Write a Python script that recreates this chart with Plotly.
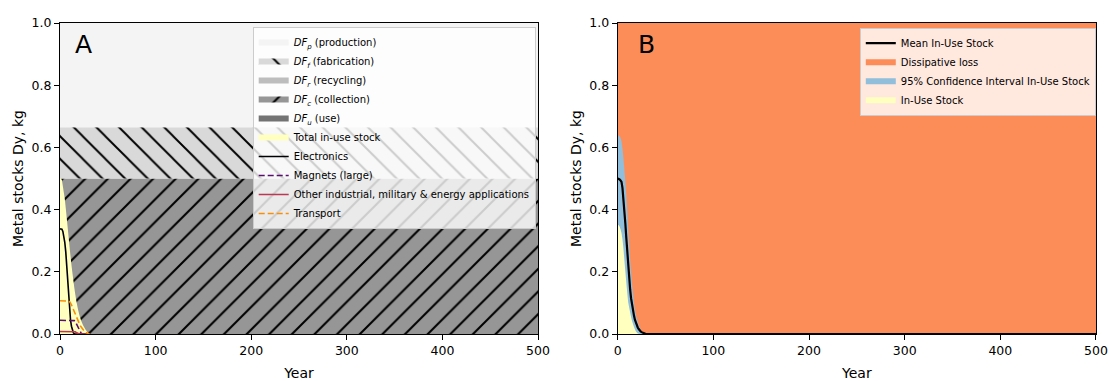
import plotly.graph_objects as go

# ---------------- data ----------------
years = list(range(0, 32)) + [500]
sector_years = list(range(0, 32))

# Panel A: in-use stock by sector (kg Dy)
total_in_use = [0.500, 0.500, 0.495, 0.475, 0.455, 0.435, 0.405, 0.375, 0.343, 0.312,
                0.280, 0.250, 0.222, 0.196, 0.172, 0.148, 0.127, 0.108, 0.092, 0.077,
                0.064, 0.053, 0.044, 0.036, 0.029, 0.023, 0.018, 0.013, 0.009, 0.005,
                0.002, 0.0, 0.0]
electronics = [0.338, 0.338, 0.337, 0.330, 0.315, 0.295, 0.265, 0.215, 0.165, 0.120,
               0.075, 0.045, 0.025, 0.012, 0.004, 0.001, 0.0, 0.0, 0.0, 0.0,
               0.0, 0.0, 0.0, 0.0, 0.0, 0.0, 0.0, 0.0, 0.0, 0.0,
               0.0, 0.0]
magnets = [0.044, 0.044, 0.044, 0.044, 0.044, 0.044, 0.044, 0.044, 0.044, 0.044,
           0.044, 0.044, 0.044, 0.044, 0.044, 0.043, 0.040, 0.034, 0.027, 0.019,
           0.012, 0.007, 0.003, 0.001, 0.0, 0.0, 0.0, 0.0, 0.0, 0.0,
           0.0, 0.0]
other = [0.008, 0.008, 0.008, 0.008, 0.008, 0.008, 0.008, 0.008, 0.008, 0.008,
         0.008, 0.008, 0.008, 0.008, 0.008, 0.008, 0.007, 0.005, 0.003, 0.001,
         0.0, 0.0, 0.0, 0.0, 0.0, 0.0, 0.0, 0.0, 0.0, 0.0,
         0.0, 0.0]
transport = [0.107, 0.107, 0.107, 0.107, 0.107, 0.107, 0.107, 0.107, 0.107, 0.106,
             0.104, 0.100, 0.094, 0.086, 0.078, 0.070, 0.062, 0.054, 0.047, 0.040,
             0.034, 0.028, 0.023, 0.018, 0.014, 0.010, 0.007, 0.005, 0.003, 0.002,
             0.001, 0.0]

# Panel A: dissipation factor bands (stacked, constant over time)
band_years = [0, 500]
df_use = [0.0, 0.0]
df_collection = [0.5, 0.5]
df_recycling = [0.0, 0.0]
df_fabrication = [0.165, 0.165]
df_production = [0.335, 0.335]

# Panel B: uncertainty of in-use stock
mean_stock = [0.500, 0.499, 0.497, 0.494, 0.489, 0.470, 0.437, 0.398, 0.356, 0.310,
              0.260, 0.205, 0.172, 0.144, 0.115, 0.092, 0.076, 0.060, 0.046, 0.036,
              0.027, 0.021, 0.016, 0.011, 0.008, 0.006, 0.004, 0.002, 0.001, 0.0005,
              0.0, 0.0, 0.0]
ci_upper = [0.638, 0.638, 0.636, 0.630, 0.619, 0.597, 0.565, 0.528, 0.490, 0.447,
            0.395, 0.340, 0.288, 0.240, 0.198, 0.162, 0.132, 0.104, 0.078, 0.063,
            0.050, 0.039, 0.030, 0.022, 0.014, 0.008, 0.005, 0.003, 0.001, 0.0,
            0.0, 0.0, 0.0]
ci_lower = [0.352, 0.350, 0.346, 0.337, 0.325, 0.305, 0.276, 0.238, 0.202, 0.166,
            0.133, 0.102, 0.085, 0.070, 0.055, 0.042, 0.032, 0.023, 0.015, 0.009,
            0.005, 0.002, 0.001, 0.0, 0.0, 0.0, 0.0, 0.0, 0.0, 0.0,
            0.0, 0.0, 0.0]
dissipative_top = [1.0, 1.0]

FONT = "DejaVu Sans"
fig = go.Figure()

# ---------------- Panel A ----------------
fig.add_trace(go.Scatter(x=band_years, y=df_use, stackgroup="a", mode="none",
                         fillcolor="#737373", name="<i>DF</i><sub><i>u</i></sub> (use)",
                         legend="legend", legendrank=5, xaxis="x", yaxis="y"))
fig.add_trace(go.Scatter(x=band_years, y=df_collection, stackgroup="a", mode="none",
                         fillcolor="#969696",
                         fillpattern=dict(shape="/", fgcolor="#000000", bgcolor="#969696",
                                          size=16, solidity=0.13),
                         name="<i>DF</i><sub><i>c</i></sub> (collection)",
                         legend="legend", legendrank=4, xaxis="x", yaxis="y"))
fig.add_trace(go.Scatter(x=band_years, y=df_recycling, stackgroup="a", mode="none",
                         fillcolor="#bdbdbd", name="<i>DF</i><sub><i>r</i></sub> (recycling)",
                         legend="legend", legendrank=3, xaxis="x", yaxis="y"))
fig.add_trace(go.Scatter(x=band_years, y=df_fabrication, stackgroup="a", mode="none",
                         fillcolor="#d9d9d9",
                         fillpattern=dict(shape="\\", fgcolor="#000000", bgcolor="#d9d9d9",
                                          size=16, solidity=0.12),
                         name="<i>DF</i><sub><i>f</i></sub> (fabrication)",
                         legend="legend", legendrank=2, xaxis="x", yaxis="y"))
fig.add_trace(go.Scatter(x=band_years, y=df_production, stackgroup="a", mode="none",
                         fillcolor="#f4f4f4", name="<i>DF</i><sub><i>p</i></sub> (production)",
                         legend="legend", legendrank=1, xaxis="x", yaxis="y"))
fig.add_trace(go.Scatter(x=years, y=total_in_use, fill="tozeroy", mode="none",
                         fillcolor="#ffffbf", name="Total in-use stock",
                         legend="legend", legendrank=6, xaxis="x", yaxis="y"))
fig.add_trace(go.Scatter(x=sector_years, y=electronics, mode="lines",
                         line=dict(color="#000004", width=1.6), name="Electronics",
                         legend="legend", legendrank=7, xaxis="x", yaxis="y"))
fig.add_trace(go.Scatter(x=sector_years, y=magnets, mode="lines",
                         line=dict(color="#57106e", width=1.6, dash="6px,3px"),
                         name="Magnets (large)", legend="legend", legendrank=8,
                         xaxis="x", yaxis="y"))
fig.add_trace(go.Scatter(x=sector_years, y=other, mode="lines",
                         line=dict(color="#bc3754", width=1.6),
                         name="Other industrial, military &amp; energy applications",
                         legend="legend", legendrank=9, xaxis="x", yaxis="y"))
fig.add_trace(go.Scatter(x=sector_years, y=transport, mode="lines",
                         line=dict(color="#f98e09", width=1.6, dash="6px,3px"),
                         name="Transport", legend="legend", legendrank=10,
                         xaxis="x", yaxis="y"))

# ---------------- Panel B ----------------
fig.add_trace(go.Scatter(x=band_years, y=dissipative_top, fill="tozeroy", mode="none",
                         fillcolor="#fc8d59", name="Dissipative loss",
                         legend="legend2", legendrank=2, xaxis="x2", yaxis="y2"))
fig.add_trace(go.Scatter(x=years, y=ci_upper, fill="tozeroy", mode="none",
                         fillcolor="#91bfdb", name="95% Confidence Interval In-Use Stock",
                         legend="legend2", legendrank=3, xaxis="x2", yaxis="y2"))
fig.add_trace(go.Scatter(x=years, y=ci_lower, fill="tozeroy", mode="none",
                         fillcolor="#ffffbf", name="In-Use Stock",
                         legend="legend2", legendrank=4, xaxis="x2", yaxis="y2"))
fig.add_trace(go.Scatter(x=years, y=mean_stock, mode="lines",
                         line=dict(color="#000000", width=2.2), name="Mean In-Use Stock",
                         legend="legend2", legendrank=1, xaxis="x2", yaxis="y2"))

axis_common = dict(showline=True, mirror=True, linecolor="#000000", linewidth=1,
                   ticks="outside", ticklen=5, tickwidth=1, tickcolor="#000000",
                   showgrid=False, zeroline=False, automargin=False,
                   tickfont=dict(family=FONT, size=12.5, color="#000000"))
xcommon = dict(axis_common, range=[0, 500], tickvals=[0, 100, 200, 300, 400, 500],
               title=dict(text="Year", font=dict(family=FONT, size=14, color="#000000"),
                          standoff=15))
ycommon = dict(axis_common, range=[0, 1], tickvals=[0, 0.2, 0.4, 0.6, 0.8, 1.0],
               tickformat=".1f",
               title=dict(text="Metal stocks Dy, kg",
                          font=dict(family=FONT, size=14, color="#000000"), standoff=4))

legend_common = dict(bgcolor="rgba(255,255,255,0.8)", bordercolor="#cccccc", borderwidth=1,
                     font=dict(family=FONT, size=10, color="#000000"),
                     xanchor="left", yanchor="top", traceorder="normal",
                     tracegroupgap=0, itemwidth=30)

fig.update_layout(
    template="none",
    width=1109, height=381,
    margin=dict(l=60, r=13, t=23, b=47, autoexpand=False),
    paper_bgcolor="white", plot_bgcolor="white",
    font=dict(family=FONT, color="#000000"),
    xaxis=dict(xcommon, domain=[0, 0.4614], anchor="y"),
    yaxis=dict(ycommon, domain=[0, 1], anchor="x"),
    xaxis2=dict(xcommon, domain=[0.5383, 1], anchor="y2"),
    yaxis2=dict(ycommon, domain=[0, 1], anchor="x2"),
    legend=dict(legend_common, x=0.186, y=0.987),
    legend2=dict(legend_common, x=0.772, y=0.985),
    annotations=[
        dict(text="A", x=14, y=0.93, xref="x", yref="y", xanchor="left", yanchor="middle",
             showarrow=False, font=dict(family=FONT, size=25, color="#000000")),
        dict(text="B", x=19, y=0.93, xref="x2", yref="y2", xanchor="left", yanchor="middle",
             showarrow=False, font=dict(family=FONT, size=25, color="#000000")),
    ],
)

fig.write_html("out.html", config={"responsive": False, "displayModeBar": False},
               post_script="document.body.style.margin='0';document.body.style.overflow='hidden';")
